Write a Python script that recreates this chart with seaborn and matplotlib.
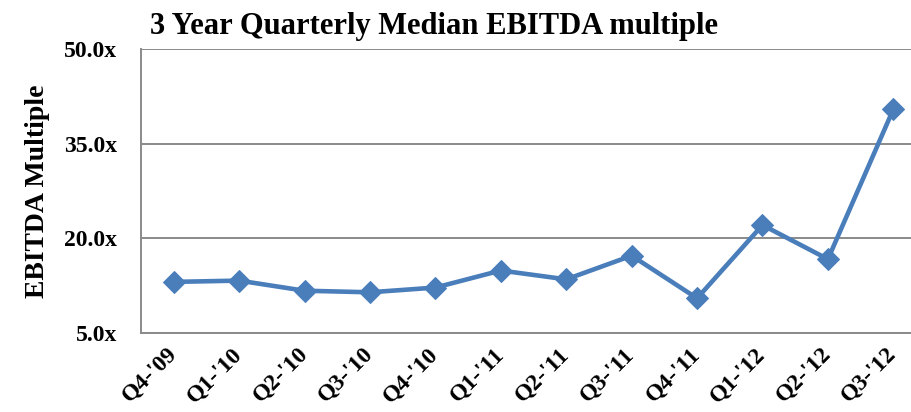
import matplotlib
matplotlib.use('Agg')
import matplotlib.pyplot as plt
import seaborn as sns
import numpy as np
import pandas as pd
from matplotlib.ticker import FixedLocator, FuncFormatter

# Dados
trimestres = ["Q4-'09", "Q1-'10", "Q2-'10", "Q3-'10", "Q4-'10", "Q1-'11",
              "Q2-'11", "Q3-'11", "Q4-'11", "Q1-'12", "Q2-'12", "Q3-'12"]
multiplos = [13.1, 13.3, 11.7, 11.45, 12.2, 14.9, 13.5, 17.25, 10.5, 22.1, 16.7, 40.45]

y_ticks = [5, 20, 35, 50]

df = pd.DataFrame({'trimestre': trimestres, 'multiplo': multiplos})
df['pos'] = np.arange(len(df))

sns.set_style('white')
plt.rcParams['font.family'] = ['Liberation Serif', 'DejaVu Serif']
plt.rcParams['font.weight'] = 'bold'
plt.rcParams['text.color'] = 'black'
plt.rcParams['xtick.labelcolor'] = 'black'
plt.rcParams['ytick.labelcolor'] = 'black'
plt.rcParams['axes.labelcolor'] = 'black'

fig = plt.figure(figsize=(9.11, 4.12), dpi=100)
ax = fig.add_axes([141 / 911, 79 / 412, 770 / 911, 284 / 412])

cinza = '#8a8a8a'
azul = '#4a7ebb'

sns.lineplot(data=df, x='pos', y='multiplo', ax=ax, color=azul, linewidth=3.3,
             marker='D', markersize=11, markeredgecolor=azul, markerfacecolor=azul)

ax.set_ylim(5, 50)
ax.set_xlim(-0.5, 11.27)
ax.set_yticks(y_ticks)
ax.yaxis.set_major_formatter(FuncFormatter(lambda v, p: f'{v:.1f}x'))
ax.grid(axis='y', color=cinza, linewidth=1.4)
ax.set_axisbelow(True)

ax.set_xticks(df['pos'])
ax.set_xticklabels(trimestres, rotation=45, ha='right', va='center',
                   rotation_mode='anchor', fontsize=17)
ax.xaxis.set_minor_locator(FixedLocator(np.arange(0.5, 11, 1)))
ax.tick_params(axis='x', which='major', length=0, pad=13)
ax.tick_params(axis='x', which='minor', direction='in', length=6, width=1.2, color=cinza)
ax.tick_params(axis='y', direction='out', length=6, width=1.2, color=cinza,
               labelsize=17, pad=11)

for lado in ['top', 'right']:
    ax.spines[lado].set_visible(False)
for lado in ['left', 'bottom']:
    ax.spines[lado].set_color(cinza)
    ax.spines[lado].set_linewidth(1.4)

ax.set_xlabel('')
ax.set_ylabel('EBITDA Multiple', fontsize=20, fontweight='bold', labelpad=10)

fig.text(150 / 911, 1 - 34 / 412, '3 Year Quarterly Median EBITDA multiple',
         fontsize=22, fontweight='bold', ha='left', va='baseline')

plt.savefig('out.png', dpi=100)
